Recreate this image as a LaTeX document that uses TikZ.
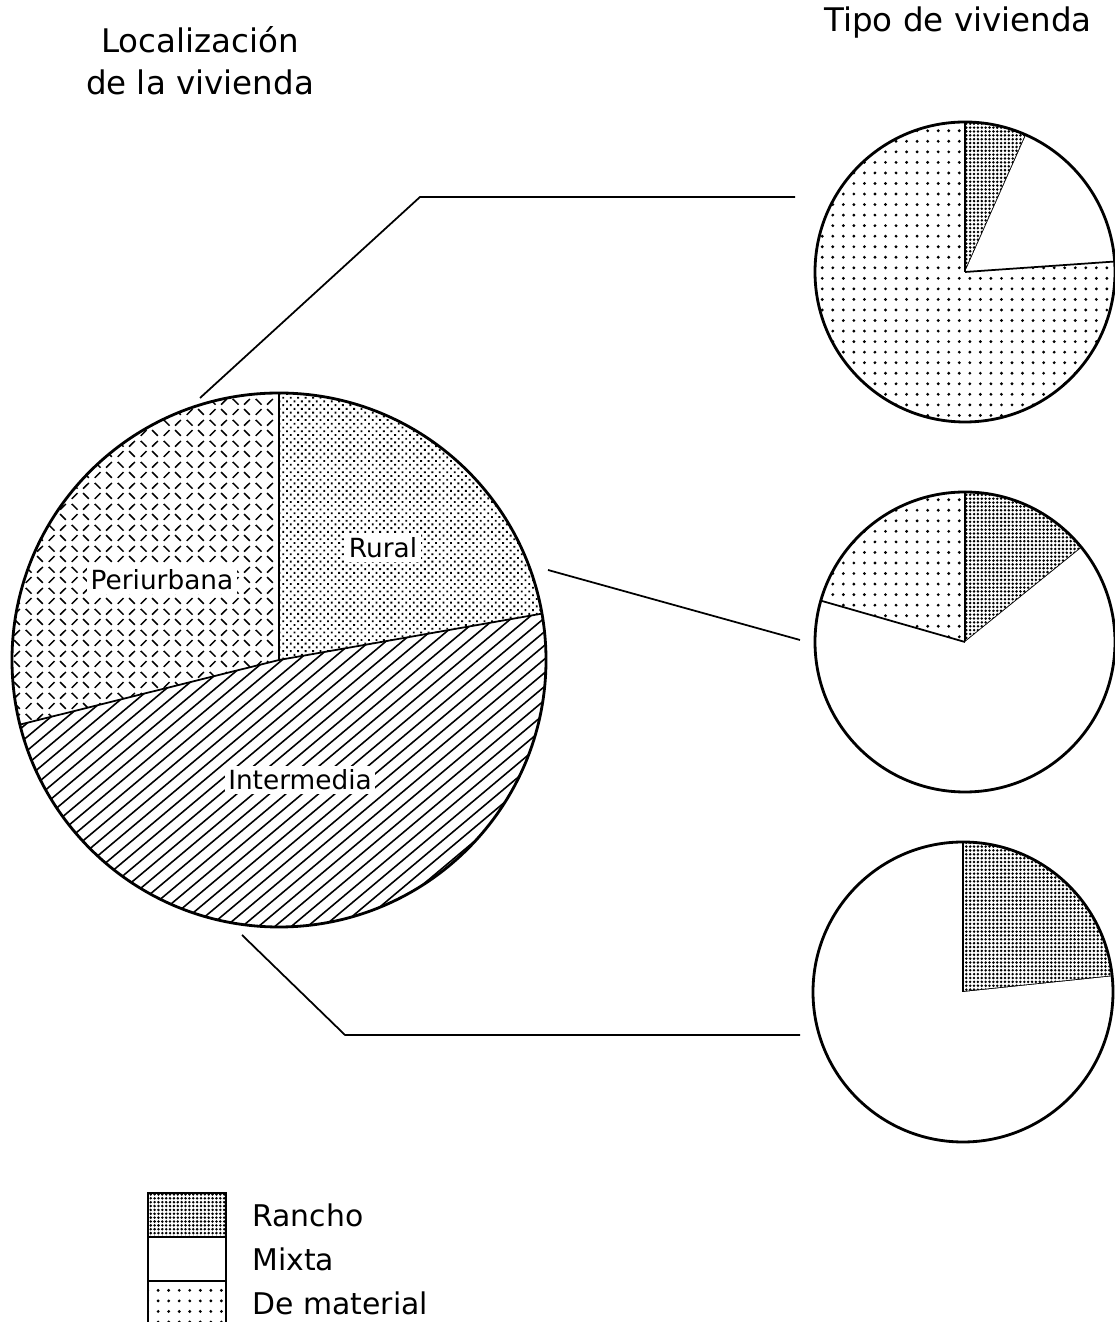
\documentclass[tikz,border=0pt]{standalone}
\usepackage{fontspec}
\setmainfont{DejaVu Sans}
\usetikzlibrary{positioning,patterns,patterns.meta}
% crossed dashes for the periurban slice
\pgfdeclarepatternformonly{periurb}{\pgfpointorigin}{\pgfqpoint{13pt}{12pt}}{\pgfqpoint{13pt}{12pt}}{
  \pgfsetlinewidth{0.9pt}
  \pgfpathmoveto{\pgfqpoint{1.6pt}{1.3pt}}\pgfpathlineto{\pgfqpoint{4.9pt}{4.7pt}}
  \pgfpathmoveto{\pgfqpoint{8.1pt}{4.7pt}}\pgfpathlineto{\pgfqpoint{11.4pt}{1.3pt}}
  \pgfpathmoveto{\pgfqpoint{1.6pt}{10.7pt}}\pgfpathlineto{\pgfqpoint{4.9pt}{7.3pt}}
  \pgfpathmoveto{\pgfqpoint{8.1pt}{7.3pt}}\pgfpathlineto{\pgfqpoint{11.4pt}{10.7pt}}
  \pgfusepath{stroke}
}
\tikzstyle{rancho}=[pattern={Dots[distance=2.2pt,radius=0.8pt]}]
\tikzstyle{mixta}=[fill=white]
\tikzstyle{material}=[pattern={Dots[distance=6pt,radius=0.9pt]}]
\tikzstyle{rural}=[pattern={Dots[distance=3pt,angle=45,radius=0.75pt]}]
\tikzstyle{periurbana}=[pattern=periurb]
\tikzstyle{hatch}=[line width=0.9pt]
\tikzstyle{rim}=[draw, line width=1.6pt]
\tikzstyle{link}=[line width=1pt]
\tikzstyle{tag}=[fill=white, inner sep=2pt, font=\fontsize{15}{18}\selectfont]
\tikzstyle{title}=[align=center, font=\fontsize{18.5}{24}\selectfont]
\tikzstyle{legbox}=[draw, line width=1.4pt, minimum width=1.56cm, minimum height=0.88cm]
\tikzstyle{legtext}=[font=\fontsize{17}{20}\selectfont]
% center, radius, from, to, style
\newcommand{\pieslice}[5]{
  \fill[#5] (#1) -- ++(#3:#2) arc[start angle=#3, end angle=#4, radius=#2] -- cycle;
  \draw[line width=1pt] (#1) -- ++(#3:#2);
}

\begin{document}
\begin{tikzpicture}[x=0.02cm, y=0.02cm]
    \useasboundingbox (0,0) rectangle (1115,1322);
    \node[title] (loc) at (200,1261) {Localización\\de la vivienda};
    \node[title] (tipo) at (958,1299) {Tipo de vivienda};

    \coordinate (big) at (279,662);
    \coordinate (ta) at (965,1050);
    \coordinate (tb) at (965,680);
    \coordinate (tc) at (963,330);

    \pieslice{big}{267}{10}{90}{rural}
    \pieslice{big}{267}{90}{194}{periurbana}
    % intermedia: hand-drawn hatching
    \begin{scope}
      \clip (big) -- ++(194:267) arc[start angle=194, end angle=370, radius=267] -- cycle;
      \begin{scope}[shift={(big)}, rotate=40]
        \foreach \d in {-275,-264.5,...,280}
          \draw[hatch] (-290,\d) -- (290,\d);
      \end{scope}
    \end{scope}
    \draw[line width=1pt] (big) -- ++(194:267);
    \draw[rim] (big) circle[radius=267];
    \node[tag] (rl) at (383,774) {Rural};
    \node[tag] (pl) at (162,742) {Periurbana};
    \node[tag] (il) at (300,542) {Intermedia};

    \pieslice{ta}{150}{66}{90}{rancho}
    \pieslice{ta}{150}{4}{66}{mixta}
    \pieslice{ta}{150}{90}{364}{material}
    \draw[rim] (ta) circle[radius=150];

    \pieslice{tb}{150}{39}{90}{rancho}
    \pieslice{tb}{150}{90}{164}{material}
    \pieslice{tb}{150}{164}{399}{mixta}
    \draw[rim] (tb) circle[radius=150];

    \pieslice{tc}{150}{6}{90}{rancho}
    \pieslice{tc}{150}{90}{366}{mixta}
    \draw[rim] (tc) circle[radius=150];

    \coordinate (p1) at (200,924);
    \coordinate (k1) at (420,1125);
    \coordinate (q1) at (795,1125);
    \coordinate (p2) at (548,752);
    \coordinate (q2) at (800,682);
    \coordinate (p3) at (242,387);
    \coordinate (k3) at (345,287);
    \coordinate (q3) at (800,287);
    \draw[link] (p1) -- (k1) -- (q1);
    \draw[link] (p2) -- (q2);
    \draw[link] (p3) -- (k3) -- (q3);

    \node[legbox, rancho] (lr) at (187,107) {};
    \node[legbox, mixta] (lm) at (187,63) {};
    \node[legbox, material] (ld) at (187,19) {};
    \node[legtext, right=0.38cm of lr] (tr) {Rancho};
    \node[legtext, right=0.38cm of lm] (tm) {Mixta};
    \node[legtext, right=0.38cm of ld] (td) {De material};
  \end{tikzpicture}
\end{document}
